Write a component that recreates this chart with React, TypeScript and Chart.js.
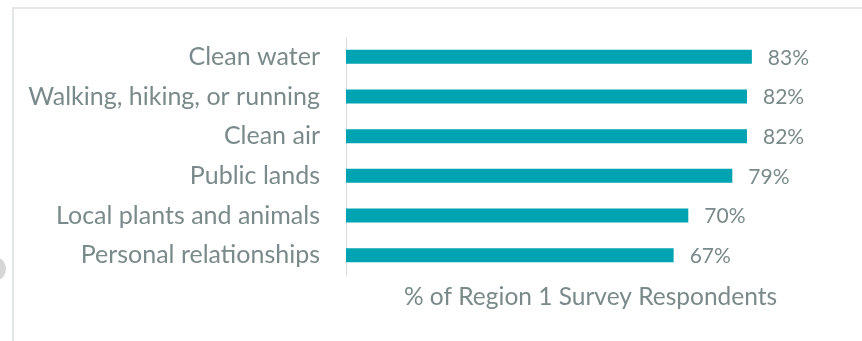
import React, { useEffect, useRef } from "react";
import { Chart, registerables } from "chart.js";
Chart.register(...registerables);

const categories = [
  "Clean water",
  "Walking, hiking, or running",
  "Clean air",
  "Public lands",
  "Local plants and animals",
  "Personal relationships",
];
const values = [83, 82, 82, 79, 70, 67];
const axisTitle = "% of Region 1 Survey Respondents";

const FONT = "Lato";
const LABEL_SIZE = 25;
const VALUE_SIZE = 21;
const TEXT = "#7a8a8a";
const BAR = "#00a3b1";

const valueLabels = {
  id: "valueLabels",
  afterDatasetsDraw(chart: any) {
    const ctx = chart.ctx;
    const meta = chart.getDatasetMeta(0);
    ctx.save();
    ctx.font = `${VALUE_SIZE}px ${FONT}`;
    ctx.fillStyle = TEXT;
    ctx.textBaseline = "middle";
    ctx.textAlign = "left";
    meta.data.forEach((el: any, i: number) => {
      ctx.fillText(values[i] + "%", el.x + 16, el.y + 1);
    });
    ctx.restore();
  },
};

export default function App() {
  const ref = useRef<HTMLCanvasElement | null>(null);
  useEffect(() => {
    if (!ref.current) return;
    const chart = new Chart(ref.current, {
      type: "bar",
      data: {
        labels: categories,
        datasets: [
          {
            data: values,
            backgroundColor: BAR,
            borderWidth: 0,
            categoryPercentage: 1,
            barPercentage: 0.355,
          },
        ],
      },
      options: {
        indexAxis: "y",
        responsive: false,
        animation: false,
        layout: { padding: { top: 37, right: 27, left: 0, bottom: 0 } },
        plugins: { legend: { display: false }, tooltip: { enabled: false } },
        scales: {
          x: {
            min: 0,
            max: 100,
            grid: { display: false, drawTicks: false },
            ticks: { display: false },
            border: { display: false },
            title: {
              display: true,
              text: axisTitle,
              color: TEXT,
              font: { family: FONT, size: LABEL_SIZE - 0.5, lineHeight: 1.2 },
              padding: { top: 0, bottom: 29 },
            },
            afterFit: (s: any) => {
              s.height = 66;
              s.paddingLeft = 0;
              s.paddingRight = 0;
            },
          },
          y: {
            grid: { display: false, drawTicks: false },
            border: { display: true, color: "#d9dcdc", width: 1 },
            ticks: {
              color: TEXT,
              font: { family: FONT, size: LABEL_SIZE },
              padding: 26,
            },
            afterFit: (s: any) => {
              s.width = 346;
              s.paddingTop = 0;
              s.paddingBottom = 0;
            },
          },
        },
      },
      plugins: [valueLabels],
    });
    return () => chart.destroy();
  }, []);
  return (
    <div style={{ position: "fixed", left: 0, top: 0, width: 862, height: 341, background: "#fff", overflow: "hidden" }}>
      <div style={{ position: "absolute", left: 12, top: 7, width: 870, height: 400, border: "2px solid #e4e7e7", boxSizing: "border-box" }} />
      <div style={{ position: "absolute", left: -12, top: 258, width: 18, height: 22, borderRadius: "50%", background: "#d6d6d6" }} />
      <canvas ref={ref} width={862} height={341} style={{ position: "absolute", left: 0, top: 0 }} />
    </div>
  );
}
